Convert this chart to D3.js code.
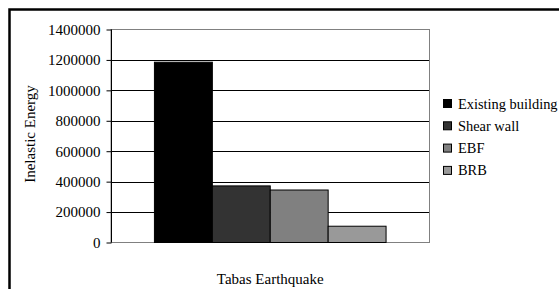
<!DOCTYPE html>
<html>
<head>
<meta charset="utf-8">
<style>
  html, body { margin: 0; padding: 0; background: #fff; }
  svg text { font-family: "Liberation Serif", serif; font-size: 15px; fill: #000; }
</style>
</head>
<body>
<div id="chart"></div>
<script src="https://cdn.jsdelivr.net/npm/d3@7/dist/d3.min.js"></script>
<script>
  var categories = ['Tabas Earthquake']
    , seriesNames = ['Existing building', 'Shear wall', 'EBF', 'BRB']
    , seriesValues = [1185000, 372000, 345000, 107000]
    , seriesColors = ['#000000', '#333333', '#808080', '#999999']
    , yTicks = [0, 200000, 400000, 600000, 800000, 1000000, 1200000, 1400000]
  ;

  var width = 559
    , height = 289
    , plot = {left: 111, right: 429.5, top: 29.5, bottom: 242.5}
    , font = '"Liberation Serif", serif'
  ;

  var svg = d3.select('#chart')
    .append('svg')
      .attr('width', width)
      .attr('height', height)
      .style('font-family', font)
  ;

  // outer chart frame (runs off the right and bottom edges)
  svg.append('rect')
    .attr('x', 9.5)
    .attr('y', 9.5)
    .attr('width', width + 20)
    .attr('height', height + 20)
    .attr('fill', 'none')
    .attr('stroke', '#000')
    .attr('stroke-width', 2.5);

  var y = d3.scaleLinear()
    .domain([0, 1400000])
    .range([plot.bottom, plot.top]);

  var x0 = d3.scaleBand()
    .domain(categories)
    .range([plot.left, plot.right])
    .paddingInner(0)
    .paddingOuter(0.1875);

  var x1 = d3.scaleBand()
    .domain(seriesNames)
    .range([0, x0.bandwidth()]);

  // gridlines
  svg.append('g')
    .selectAll('line')
    .data(yTicks.slice(1, -1))
    .enter()
    .append('line')
      .attr('x1', plot.left)
      .attr('x2', plot.right)
      .attr('y1', function (d) { return Math.round(y(d)) + 0.5; })
      .attr('y2', function (d) { return Math.round(y(d)) + 0.5; })
      .attr('stroke', '#000')
      .attr('stroke-width', 1);

  // plot frame
  svg.append('rect')
    .attr('x', plot.left)
    .attr('y', plot.top)
    .attr('width', plot.right - plot.left)
    .attr('height', plot.bottom - plot.top)
    .attr('fill', 'none')
    .attr('stroke', '#808080')
    .attr('stroke-width', 1);

  // bars
  var group = svg.append('g')
    .selectAll('g')
    .data(categories)
    .enter()
    .append('g')
      .attr('transform', function (d) { return 'translate(' + x0(d) + ',0)'; });

  group.selectAll('rect')
    .data(function () {
      return seriesNames.map(function (s, i) { return {name: s, value: seriesValues[i], color: seriesColors[i]}; });
    })
    .enter()
    .append('rect')
      .attr('x', function (d) { return x1(d.name); })
      .attr('y', function (d) { return y(d.value); })
      .attr('width', x1.bandwidth())
      .attr('height', function (d) { return y(0) - y(d.value); })
      .attr('fill', function (d) { return d.color; })
      .attr('stroke', '#000')
      .attr('stroke-width', 1);

  // y axis
  var yAxis = svg.append('g')
    .attr('transform', 'translate(' + (plot.left + 0.5) + ',0)')
    .call(d3.axisLeft(y).tickValues(yTicks).tickFormat(d3.format('d')).tickSize(5).tickPadding(6));

  yAxis.attr('font-family', font).attr('font-size', 15);
  yAxis.select('.domain').attr('stroke', '#000').attr('d', 'M0,' + plot.top + 'V' + plot.bottom);
  yAxis.selectAll('.tick line').attr('stroke', '#000');
  yAxis.selectAll('text').attr('fill', '#000');

  // axis titles
  svg.append('text')
    .attr('transform', 'translate(35,134) rotate(-90)')
    .attr('text-anchor', 'middle')
    .text('Inelastic Energy');

  svg.append('text')
    .attr('x', (plot.left + plot.right) / 2)
    .attr('y', 284)
    .attr('text-anchor', 'middle')
    .text('Tabas Earthquake');

  // legend
  var legend = svg.append('g')
    .selectAll('g')
    .data(seriesNames)
    .enter()
    .append('g')
      .attr('transform', function (d, i) { return 'translate(443.5,' + (99.5 + i * 22.3) + ')'; });

  legend.append('rect')
    .attr('width', 8)
    .attr('height', 8)
    .attr('fill', function (d, i) { return seriesColors[i]; })
    .attr('stroke', '#000')
    .attr('stroke-width', 1);

  legend.append('text')
    .attr('x', 14.5)
    .attr('y', 4)
    .attr('dy', '0.35em')
    .style('font-size', '14.4px')
    .text(function (d) { return d; });
</script>
</body>
</html>
